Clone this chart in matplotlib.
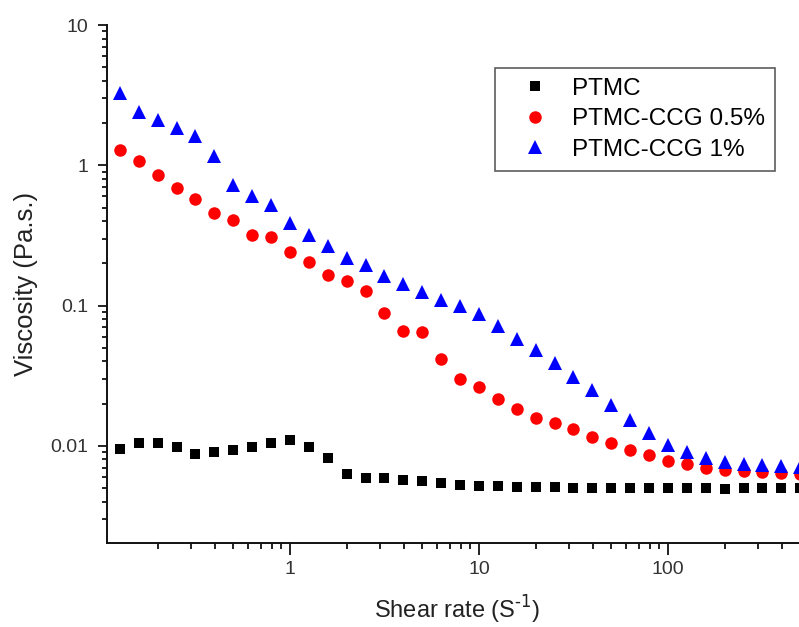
import numpy as np
import matplotlib
matplotlib.use("Agg")
import matplotlib.pyplot as plt
from matplotlib.ticker import LogLocator, FuncFormatter, NullFormatter

plt.rcParams['font.family'] = ['Liberation Sans', 'DejaVu Sans']

# taxa de cisalhamento (10 pontos por década)
shear_rate = [0.126, 0.158, 0.2, 0.251, 0.316, 0.398, 0.501, 0.631, 0.794, 1.0,
              1.26, 1.58, 2.0, 2.51, 3.16, 3.98, 5.01, 6.31, 7.94, 10.0,
              12.6, 15.8, 20.0, 25.1, 31.6, 39.8, 50.1, 63.1, 79.4, 100.0,
              126, 158, 200, 251, 316, 398, 501]

# viscosidade (Pa.s.)
ptmc = [0.00957, 0.01055, 0.0105, 0.0098, 0.0087, 0.0091, 0.0093, 0.0098, 0.0104, 0.0110,
        0.0098, 0.0082, 0.0063, 0.0059, 0.0059, 0.0057, 0.0056, 0.0054, 0.0053, 0.0052,
        0.0052, 0.0051, 0.0051, 0.0051, 0.00504, 0.0050, 0.0050, 0.0050, 0.0050, 0.0050,
        0.0050, 0.0050, 0.0049, 0.0050, 0.0050, 0.0050, 0.0050]
ptmc_ccg_05 = [1.29, 1.07, 0.86, 0.69, 0.58, 0.46, 0.41, 0.32, 0.31, 0.243,
               0.205, 0.164, 0.150, 0.127, 0.089, 0.0664, 0.0645, 0.0414, 0.0298, 0.0263,
               0.0216, 0.0182, 0.0159, 0.0145, 0.0131, 0.0116, 0.0104, 0.00935, 0.00857, 0.00785,
               0.0074, 0.0069, 0.0067, 0.00663, 0.0065, 0.0064, 0.0063]
ptmc_ccg_1 = [3.26, 2.39, 2.09, 1.84, 1.61, 1.16, 0.72, 0.60, 0.52, 0.39,
              0.317, 0.265, 0.217, 0.194, 0.162, 0.142, 0.124, 0.109, 0.099, 0.087,
              0.071, 0.058, 0.048, 0.0388, 0.0308, 0.0249, 0.0195, 0.0152, 0.0123, 0.0101,
              0.0090, 0.00816, 0.00764, 0.0074, 0.0073, 0.0072, 0.0071]

fig = plt.figure(figsize=(7.99, 6.27), dpi=100)
ax = fig.add_axes([0.134, 0.134, 0.866, 0.826])

ax.plot(shear_rate, ptmc, 's', color='black', ms=7.5, mew=0, label='PTMC')
ax.plot(shear_rate, ptmc_ccg_05, 'o', color='#ff0000', ms=9, mew=0, label='PTMC-CCG 0.5%')
ax.plot(shear_rate, ptmc_ccg_1, '^', color='#0000ff', ms=10.5, mew=0, label='PTMC-CCG 1%')

ax.set_xscale('log')
ax.set_yscale('log')
ax.set_xlim(0.1076, 493)
ax.set_ylim(0.00203, 10)

fmt = FuncFormatter(lambda v, p: '{:g}'.format(v))
ax.xaxis.set_major_formatter(fmt)
ax.yaxis.set_major_formatter(fmt)
ax.xaxis.set_minor_locator(LogLocator(base=10, subs=np.arange(2, 10), numticks=20))
ax.yaxis.set_minor_locator(LogLocator(base=10, subs=np.arange(2, 10), numticks=20))
ax.xaxis.set_minor_formatter(NullFormatter())
ax.yaxis.set_minor_formatter(NullFormatter())

ax.spines['top'].set_visible(False)
ax.spines['right'].set_visible(False)
for s in ['left', 'bottom']:
    ax.spines[s].set_linewidth(1.4)
    ax.spines[s].set_color('#111111')

ax.tick_params(which='both', direction='out', width=1.3, color='#111111',
               labelsize=14, labelcolor='#333333')
ax.tick_params(axis='x', which='major', length=8.5, pad=4.5)
ax.tick_params(axis='x', which='minor', length=4.3)
ax.tick_params(axis='y', which='major', length=6.5, pad=7)
ax.tick_params(axis='y', which='minor', length=3.5)

ax.set_xlabel('Shear rate (S$^{\\text{-}1}$)', fontsize=17, color='#222222')
ax.set_ylabel('Viscosity (Pa.s.)', fontsize=18.5, color='#222222')
ax.xaxis.label.set_va('baseline')
ax.xaxis.set_label_coords(0.506, -0.146)
ax.yaxis.set_label_coords(-0.1, 0.5)

leg = ax.legend(loc='upper left', bbox_to_anchor=(0.6195, 0.8915),
                bbox_transform=fig.transFigure, borderaxespad=0, fontsize=17.5,
                numpoints=1, fancybox=False, frameon=True, handlelength=2.5,
                handletextpad=0.28, borderpad=0.4, labelspacing=0.35)
leg.get_frame().set_edgecolor('#333333')
leg.get_frame().set_linewidth(1.2)

fig.savefig('out.png', dpi=100)
